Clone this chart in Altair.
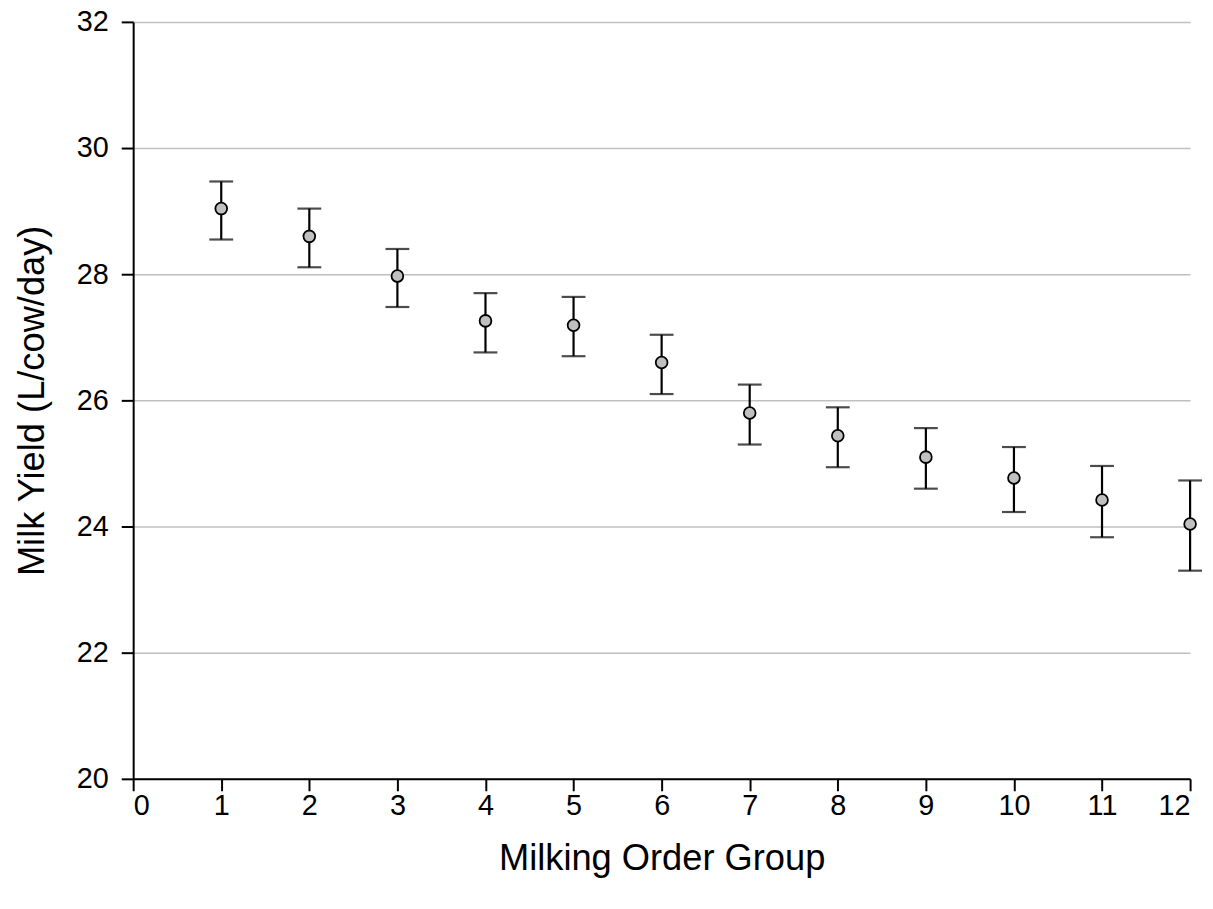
import altair as alt
import pandas as pd

groups = [1, 2, 3, 4, 5, 6, 7, 8, 9, 10, 11, 12]
mean_yield = [29.04, 28.60, 27.97, 27.26, 27.19, 26.60, 25.80, 25.44, 25.10, 24.77, 24.42, 24.04]
lower = [28.55, 28.11, 27.48, 26.76, 26.70, 26.10, 25.30, 24.94, 24.60, 24.23, 23.83, 23.30]
upper = [29.47, 29.04, 28.40, 27.70, 27.64, 27.04, 26.25, 25.89, 25.56, 25.26, 24.96, 24.73]

x_ticks = list(range(0, 13))
y_ticks = [20, 22, 24, 26, 28, 30, 32]

df = pd.DataFrame({"group": groups, "mean": mean_yield, "lower": lower, "upper": upper})

FONT = "Liberation Sans"

x_enc = alt.X(
    "group:Q",
    scale=alt.Scale(domain=[0, 12], nice=False, zero=False),
    axis=alt.Axis(
        values=x_ticks,
        title="Milking Order Group",
        grid=False,
        format="d",
        labelBaseline="alphabetic",
        labelPadding=24,
        titleBaseline="alphabetic",
        titleY=91,
    ),
)

base = alt.Chart(df)

rules = base.mark_rule(color="black", strokeWidth=2.2).encode(
    x=x_enc,
    y=alt.Y(
        "lower:Q",
        scale=alt.Scale(domain=[20, 32], nice=False, zero=False),
        axis=alt.Axis(
            values=y_ticks,
            title="Milk Yield (L/cow/day)",
            grid=True,
            format="d",
            labelPadding=13,
            titleBaseline="alphabetic",
            titleX=-90,
        ),
    ),
    y2="upper:Q",
)

caps_low = base.mark_tick(color="black", thickness=2.2, size=24, orient="horizontal").encode(
    x="group:Q", y="lower:Q"
)
caps_high = base.mark_tick(color="black", thickness=2.2, size=24, orient="horizontal").encode(
    x="group:Q", y="upper:Q"
)

points = base.mark_point(
    filled=True, fill="#c0c0c0", stroke="black", strokeWidth=1.8, size=140, opacity=1, shape="circle"
).encode(x="group:Q", y="mean:Q")

chart = (
    alt.layer(rules, caps_low, caps_high, points)
    .properties(
        width=1064,
        height=762,
        autosize=alt.AutoSizeParams(type="none"),
        padding={"left": 126, "top": 11, "right": 15, "bottom": 120},
        background="white",
    )
    .configure_view(stroke=None)
    .configure_axis(
        labelFont=FONT,
        titleFont=FONT,
        labelFontSize=29,
        titleFontSize=36.5,
        titleFontWeight="normal",
        labelColor="black",
        titleColor="black",
        domainColor="black",
        domainWidth=2,
        tickColor="black",
        tickWidth=2,
        tickSize=12,
        gridColor="#c0c0c0",
        gridWidth=1.5,
    )
)

chart.save("out.html", embed_options={"renderer": "svg", "actions": False})
